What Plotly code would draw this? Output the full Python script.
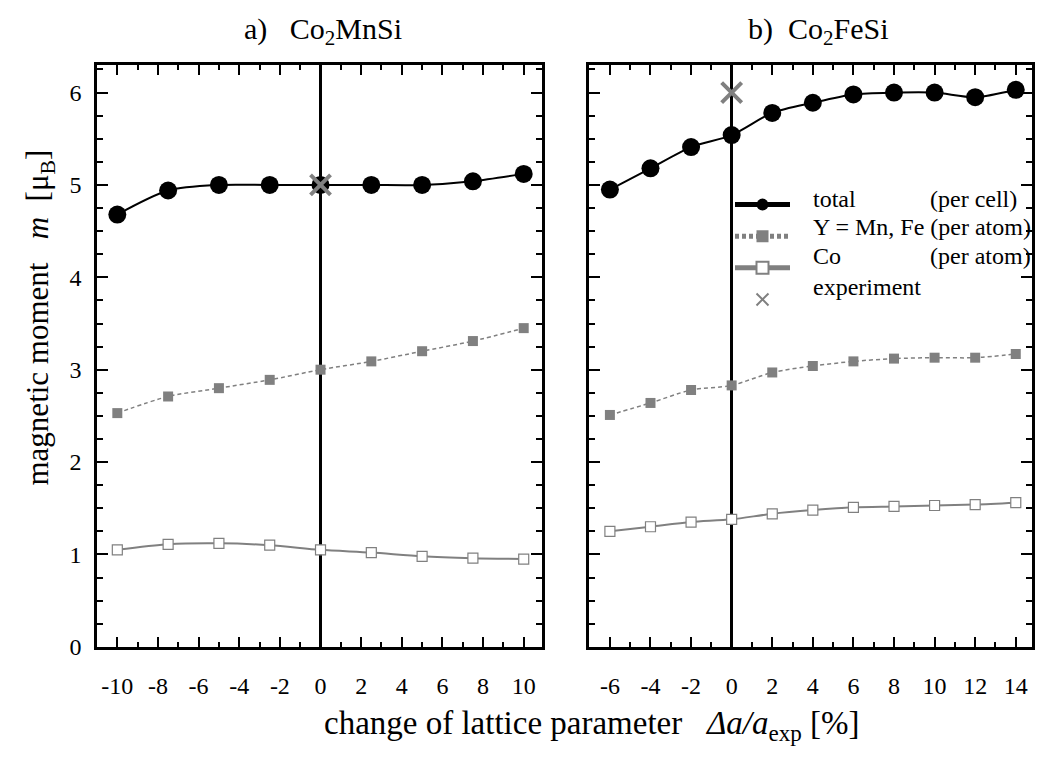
import plotly.graph_objects as go

# Panel a) Co2MnSi
x_mn = [-10, -7.5, -5, -2.5, 0, 2.5, 5, 7.5, 10]
total_mn = [4.68, 4.94, 5.00, 5.00, 5.00, 5.00, 5.00, 5.04, 5.12]
y_mn = [2.53, 2.71, 2.80, 2.89, 3.00, 3.09, 3.20, 3.31, 3.45]
co_mn = [1.05, 1.11, 1.12, 1.10, 1.05, 1.02, 0.98, 0.96, 0.95]
exp_mn_x = [0]
exp_mn_y = [5.0]

# Panel b) Co2FeSi
x_fe = [-6, -4, -2, 0, 2, 4, 6, 8, 10, 12, 14]
total_fe = [4.95, 5.18, 5.41, 5.54, 5.78, 5.89, 5.98, 6.00, 6.00, 5.95, 6.03]
y_fe = [2.51, 2.64, 2.78, 2.83, 2.97, 3.04, 3.09, 3.12, 3.13, 3.13, 3.17]
co_fe = [1.25, 1.30, 1.35, 1.38, 1.44, 1.48, 1.51, 1.52, 1.53, 1.54, 1.56]
exp_fe_x = [0]
exp_fe_y = [6.0]

xticks_a = [-10, -8, -6, -4, -2, 0, 2, 4, 6, 8, 10]
xticks_b = [-6, -4, -2, 0, 2, 4, 6, 8, 10, 12, 14]
yticks = [0, 1, 2, 3, 4, 5, 6]

legend_labels = ["total", "Y = Mn, Fe (per atom)", "Co", "experiment"]
legend_notes = ["(per cell)", "", "(per atom)", ""]

FONT = "Liberation Serif"
GRAY = "#808080"
NB = "\u00a0"

fig = go.Figure()

for xs, tot, yv, co, ex, ey, xa, ya, show in [
    (x_mn, total_mn, y_mn, co_mn, exp_mn_x, exp_mn_y, "x", "y", False),
    (x_fe, total_fe, y_fe, co_fe, exp_fe_x, exp_fe_y, "x2", "y2", True),
]:
    fig.add_trace(go.Scatter(x=xs, y=tot, mode="lines+markers", name=NB,
                             line=dict(color="black", width=2, shape="spline", smoothing=0.8),
                             marker=dict(symbol="circle", size=18, color="black"),
                             xaxis=xa, yaxis=ya, showlegend=show, legendrank=1))
    fig.add_trace(go.Scatter(x=xs, y=yv, mode="lines+markers", name=NB * 2,
                             line=dict(color=GRAY, width=1.5, dash="4px,3px", shape="spline", smoothing=0.8),
                             marker=dict(symbol="square", size=10, color=GRAY),
                             xaxis=xa, yaxis=ya, showlegend=show, legendrank=2))
    fig.add_trace(go.Scatter(x=xs, y=co, mode="lines+markers", name=NB * 3,
                             line=dict(color=GRAY, width=2, shape="spline", smoothing=0.8),
                             marker=dict(symbol="square", size=10, color="white",
                                         line=dict(color=GRAY, width=1.2)),
                             xaxis=xa, yaxis=ya, showlegend=show, legendrank=3))
    fig.add_trace(go.Scatter(x=ex, y=ey, mode="markers", name=NB * 4,
                             marker=dict(symbol="x-thin-open", size=20, color=GRAY,
                                         line=dict(color=GRAY, width=4)),
                             xaxis=xa, yaxis=ya, showlegend=show, legendrank=4))

W, H = 1039, 764
L1, R1 = 97 / W, 542 / W
L2, R2 = 589 / W, 1032 / W
B, T = 1 - 658 / H, 1 - 66 / H

tickfont = dict(family=FONT, size=24, color="black")
common_x = dict(showgrid=False, showline=True, linecolor="black", linewidth=2.5, mirror="allticks",
                ticks="inside", ticklen=10, tickwidth=2, tickcolor="black",
                zeroline=True, zerolinecolor="black", zerolinewidth=2.5,
                tickfont=tickfont, ticklabelstandoff=16,
                minor=dict(tick0=0, dtick=1, ticks="inside", ticklen=5, tickwidth=1.5, tickcolor="black"))
common_y = dict(showgrid=False, showline=True, linecolor="black", linewidth=2.5, mirror="allticks",
                ticks="inside", ticklen=11, tickwidth=2, tickcolor="black",
                zeroline=False, tickfont=tickfont, range=[0, 6.3],
                tickvals=yticks, ticktext=[str(v) for v in yticks], ticklabelstandoff=8,
                minor=dict(tick0=0, dtick=0.25, ticks="inside", ticklen=6, tickwidth=1.5, tickcolor="black"))

fig.update_layout(
    width=W, height=H,
    margin=dict(l=0, r=0, t=0, b=0),
    paper_bgcolor="white", plot_bgcolor="white",
    font=dict(family=FONT, color="black"),
    xaxis=dict(domain=[L1, R1], range=[-11, 10.9], tickvals=xticks_a,
               ticktext=[str(v) for v in xticks_a], anchor="y", **common_x),
    xaxis2=dict(domain=[L2, R2], range=[-7.03, 14.8], tickvals=xticks_b,
                ticktext=[str(v) for v in xticks_b], anchor="y2", **common_x),
    yaxis=dict(domain=[B, T], anchor="x", **common_y),
    yaxis2=dict(domain=[B, T], anchor="x2", showticklabels=False, **common_y),
    showlegend=True,
    legend=dict(x=730 / W, y=1 - 187 / H, xanchor="left", yanchor="top",
                bgcolor="rgba(0,0,0,0)", borderwidth=0,
                font=dict(family=FONT, size=22, color="black"),
                itemsizing="constant", tracegroupgap=0, itemwidth=55),
)

ann = []
ann.append(dict(text="a)\u00a0\u00a0\u00a0Co<sub>2</sub>MnSi", x=323 / W, y=1 - 32 / H,
                xref="paper", yref="paper", showarrow=False, xanchor="center", yanchor="middle",
                font=dict(family=FONT, size=30, color="black")))
ann.append(dict(text="b)\u00a0\u00a0Co<sub>2</sub>FeSi", x=818 / W, y=1 - 32 / H,
                xref="paper", yref="paper", showarrow=False, xanchor="center", yanchor="middle",
                font=dict(family=FONT, size=30, color="black")))
ann.append(dict(text="magnetic moment\u00a0\u00a0\u00a0<i>m</i>\u00a0\u00a0[\u03bc<sub>B</sub>]",
                x=40 / W, y=1 - 323 / H, textangle=-90,
                xref="paper", yref="paper", showarrow=False, xanchor="center", yanchor="middle",
                font=dict(family=FONT, size=31, color="black")))
ann.append(dict(text="change of lattice parameter\u00a0\u00a0\u00a0<i>\u0394a/a</i><sub>exp</sub> [%]",
                x=592 / W, y=1 - 738 / H,
                xref="paper", yref="paper", showarrow=False, xanchor="center", yanchor="middle",
                font=dict(family=FONT, size=33, color="black")))

# legend texts, aligned with the legend symbol rows
row_y = [202, 231, 260, 292]
note_right = [1019, 0, 1033, 0]
for i, (lab, note) in enumerate(zip(legend_labels, legend_notes)):
    ann.append(dict(text=lab, x=811 / W, y=1 - row_y[i] / H, xref="paper", yref="paper",
                    showarrow=False, xanchor="left", yanchor="middle",
                    font=dict(family=FONT, size=24, color="black")))
    if note:
        ann.append(dict(text=note, x=note_right[i] / W, y=1 - row_y[i] / H, xref="paper", yref="paper",
                        showarrow=False, xanchor="right", yanchor="middle",
                        font=dict(family=FONT, size=24, color="black")))
fig.update_layout(annotations=ann)

fig.write_html("out.html")
